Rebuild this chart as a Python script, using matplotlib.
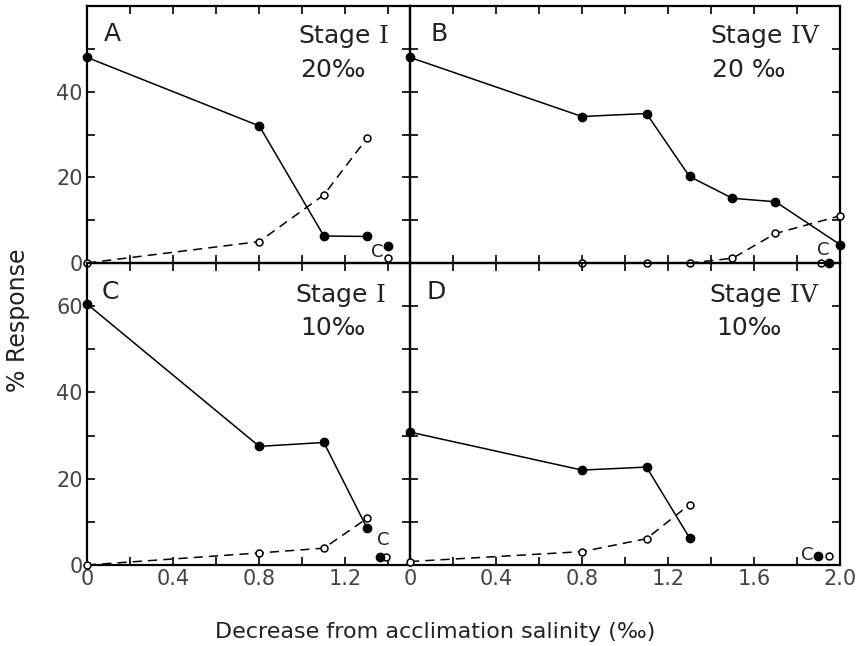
import matplotlib
matplotlib.use("Agg")
import matplotlib.pyplot as plt
import numpy as np

plt.rcParams['font.family'] = ['DejaVu Sans']
plt.rcParams['mathtext.fontset'] = 'dejavuserif'

# ---- Data (x = decrease from acclimation salinity, y = % response) ----
# Panel A: Stage I, 20 permille
A_fill_x = [0.0, 0.8, 1.1, 1.3]
A_fill_y = [48.0, 32.0, 6.3, 6.2]
A_open_x = [0.0, 0.8, 1.1, 1.3]
A_open_y = [0.0, 5.0, 15.9, 29.1]
A_ctrl_fill = (1.4, 4.0)
A_ctrl_open = (1.4, 1.2)

# Panel B: Stage IV, 20 permille
B_fill_x = [0.0, 0.8, 1.1, 1.3, 1.5, 1.7, 2.0]
B_fill_y = [48.0, 34.2, 34.9, 20.2, 15.1, 14.3, 4.3]
B_open_x = [0.8, 1.1, 1.3, 1.5, 1.7, 2.0]
B_open_y = [0.0, 0.0, 0.0, 1.1, 6.9, 11.0]
B_ctrl_fill = (1.95, 0.0)
B_ctrl_open = (1.91, 0.0)

# Panel C: Stage I, 10 permille
C_fill_x = [0.0, 0.8, 1.1, 1.3]
C_fill_y = [60.5, 27.5, 28.4, 8.6]
C_open_x = [0.0, 0.8, 1.1, 1.3]
C_open_y = [0.0, 2.8, 3.9, 10.8]
C_ctrl_fill = (1.36, 1.9)
C_ctrl_open = (1.39, 1.9)

# Panel D: Stage IV, 10 permille
D_fill_x = [0.0, 0.8, 1.1, 1.3]
D_fill_y = [30.8, 22.0, 22.7, 6.3]
D_open_x = [0.0, 0.8, 1.1, 1.3]
D_open_y = [0.8, 3.1, 6.1, 14.0]
D_ctrl_fill = (1.90, 2.1)
D_ctrl_open = (1.95, 2.1)

left_xticks = [0, 0.2, 0.4, 0.6, 0.8, 1.0, 1.2, 1.4]
left_xlabels = ['0', '', '0.4', '', '0.8', '', '1.2', '']
right_xticks = [0, 0.2, 0.4, 0.6, 0.8, 1.0, 1.2, 1.4, 1.6, 1.8, 2.0]
right_xlabels = ['0', '', '0.4', '', '0.8', '', '1.2', '', '1.6', '', '2.0']
top_yticks = [0, 10, 20, 30, 40, 50]
top_ylabels = ['0', '', '20', '', '40', '']
bot_yticks = [0, 10, 20, 30, 40, 50, 60]
bot_ylabels = ['0', '', '20', '', '40', '', '60']

W, H = 862, 646
fig = plt.figure(figsize=(W / 100, H / 100), dpi=100)

def frac_box(x0, x1, ytop, ybot):
    return [x0 / W, 1 - ybot / H, (x1 - x0) / W, (ybot - ytop) / H]

axA = fig.add_axes(frac_box(87, 410, 6, 263))
axB = fig.add_axes(frac_box(410, 840, 6, 263))
axC = fig.add_axes(frac_box(87, 410, 263, 565))
axD = fig.add_axes(frac_box(410, 840, 263, 565))

TXT = '#222222'
TCK = '#444444'

def style(ax, xlim, ylim, xt, xl, yt, yl, showx, showy):
    ax.set_xlim(*xlim)
    ax.set_ylim(*ylim)
    ax.set_xticks(xt)
    ax.set_yticks(yt)
    ax.set_xticklabels(xl if showx else [''] * len(xt))
    ax.set_yticklabels(yl if showy else [''] * len(yt))
    ax.tick_params(direction='in', top=True, right=True, length=6, width=1.2,
                   labelsize=15, labelcolor=TCK, pad=3)
    for s in ax.spines.values():
        s.set_linewidth(1.6)
    ax.patch.set_alpha(0)

def draw(ax, fx, fy, ox, oy, cf, co):
    ax.plot(ox, oy, color='black', lw=1.1, ls=(0, (6, 4)), marker='o', ms=5,
            mfc='white', mec='black', mew=1.1, clip_on=False, zorder=3)
    ax.plot(fx, fy, color='black', lw=1.1, marker='o', ms=6, mfc='black',
            mec='black', clip_on=False, zorder=4)
    ax.plot([co[0]], [co[1]], marker='o', ms=5, mfc='white', mec='black',
            mew=1.1, ls='none', clip_on=False, zorder=3)
    ax.plot([cf[0]], [cf[1]], marker='o', ms=6, mfc='black', mec='black',
            ls='none', clip_on=False, zorder=4)

style(axA, (0, 1.5), (0, 60), left_xticks, left_xlabels, top_yticks, top_ylabels, False, True)
style(axB, (0, 2.0), (0, 60), right_xticks, right_xlabels, top_yticks, top_ylabels, False, False)
style(axC, (0, 1.5), (0, 70), left_xticks, left_xlabels, bot_yticks, bot_ylabels, True, True)
style(axD, (0, 2.0), (0, 70), right_xticks, right_xlabels, bot_yticks, bot_ylabels, True, False)

draw(axA, A_fill_x, A_fill_y, A_open_x, A_open_y, A_ctrl_fill, A_ctrl_open)
draw(axB, B_fill_x, B_fill_y, B_open_x, B_open_y, B_ctrl_fill, B_ctrl_open)
draw(axC, C_fill_x, C_fill_y, C_open_x, C_open_y, C_ctrl_fill, C_ctrl_open)
draw(axD, D_fill_x, D_fill_y, D_open_x, D_open_y, D_ctrl_fill, D_ctrl_open)

# Panel letters
for ax, lab, xf, yf in [(axA, 'A', 0.077, 0.891), (axB, 'B', 0.067, 0.891),
                        (axC, 'C', 0.071, 0.904), (axD, 'D', 0.060, 0.904)]:
    ax.text(xf, yf, lab, transform=ax.transAxes, ha='center', va='center',
            fontsize=18, color=TXT)

# Stage / salinity labels
for ax, st, sx, sy, sal, px, py in [
        (axA, r'Stage $\mathrm{I}$', 0.653, 0.856, '20‰', 0.659, 0.724),
        (axB, r'Stage $\mathrm{IV}$', 0.698, 0.856, '20 ‰', 0.702, 0.724),
        (axC, r'Stage $\mathrm{I}$', 0.644, 0.871, '10‰', 0.659, 0.762),
        (axD, r'Stage $\mathrm{IV}$', 0.695, 0.871, '10‰', 0.712, 0.762)]:
    ax.text(sx, sy, st, transform=ax.transAxes, ha='left', va='baseline',
            fontsize=18, color=TXT)
    ax.text(px, py, sal, transform=ax.transAxes, ha='left', va='baseline',
            fontsize=18, color=TXT)

# Control labels
axA.text(1.346, 2.6, 'C', ha='center', va='center', fontsize=13, color=TXT)
axB.text(1.92, 3.0, 'C', ha='center', va='center', fontsize=13, color=TXT)
axC.text(1.378, 5.7, 'C', ha='center', va='center', fontsize=13, color=TXT)
axD.text(1.85, 2.3, 'C', ha='center', va='center', fontsize=13, color=TXT)

fig.text(18 / W, 1 - 320 / H, '% Response', rotation=90, ha='center', va='center',
         fontsize=17, color=TXT)
fig.text(435 / W, 1 - 632 / H, 'Decrease from acclimation salinity (‰)',
         ha='center', va='center', fontsize=16, color=TXT)

fig.savefig('out.png', dpi=100)
